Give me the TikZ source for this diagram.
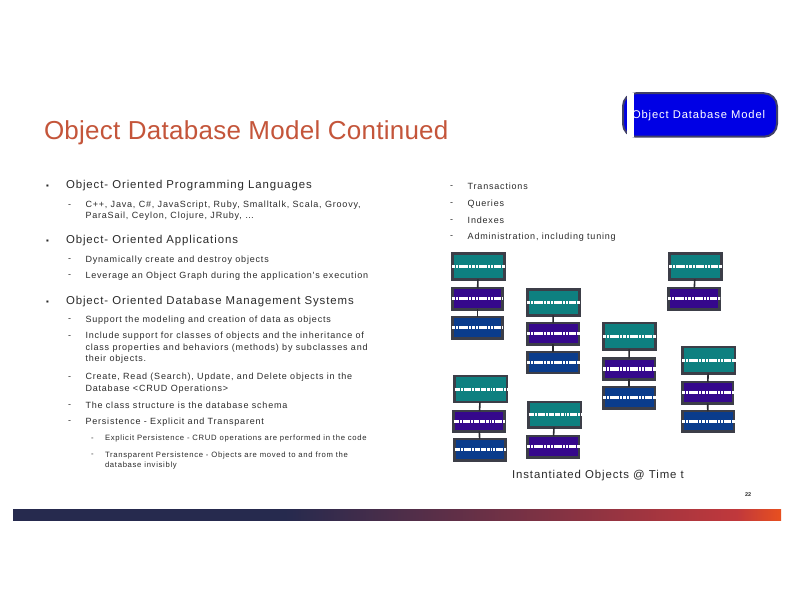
\documentclass[tikz,border=0pt]{standalone}
\usepackage{fontspec}
\setmainfont{Liberation Sans}
\newfontfamily\ftitle[LetterSpace=1]{Liberation Sans}
\newfontfamily\fone[LetterSpace=8]{Liberation Sans}
\newfontfamily\ftwo[LetterSpace=9]{Liberation Sans}
\newfontfamily\fthree[LetterSpace=9]{Liberation Sans}
\definecolor{tealfill}{HTML}{0E8080}
\definecolor{purplefill}{HTML}{35088C}
\definecolor{bluefill}{HTML}{0A3C8C}
\definecolor{boxedge}{HTML}{3C3E48}
\definecolor{badgeedge}{HTML}{3F3F68}
\definecolor{titlecol}{HTML}{C4553A}
\definecolor{bodytext}{HTML}{2A2A2A}
\definecolor{barnavy}{HTML}{262A4E}
\definecolor{barred}{HTML}{C0383C}
\definecolor{barorange}{HTML}{E8501F}
\pgfdeclarehorizontalshading{barshade}{100bp}{
  color(0bp)=(barnavy);
  color(25bp)=(barnavy);
  color(42.7bp)=(barnavy);
  color(72.1bp)=(barred);
  color(75bp)=(barorange);
  color(100bp)=(barorange)}
\tikzset{
  x=1pt,y=1pt,
  objbase/.style={rectangle,draw=boxedge,line width=2.5pt,outer sep=0pt,inner sep=0pt},
  tealbox/.style={objbase,fill=tealfill},
  purplebox/.style={objbase,fill=purplefill},
  bluebox/.style={objbase,fill=bluefill},
  barline/.style={draw=white,line width=3.2pt,dash pattern=on 3pt off .9pt on 1.5pt off .9pt on 2pt off .9pt on 7pt off .9pt on 2pt off .9pt on 3pt off .9pt on 1.5pt off .9pt on 5pt off .9pt},
  link/.style={draw=boxedge!70!black,line width=1.6pt},
  txt/.style={anchor=west,inner sep=0pt,outer sep=0pt,text=bodytext,align=left,yshift=-1pt},
  titletxt/.style={txt,text=titlecol,font=\ftitle\fontsize{26}{30}\selectfont},
  lone/.style={txt,font=\fone\fontsize{11.4}{13}\selectfont},
  ltwo/.style={txt,font=\ftwo\fontsize{9}{11.5}\selectfont},
  lthree/.style={txt,font=\fthree\fontsize{7.7}{10.5}\selectfont},
}
\newcommand{\objbox}[6]{%
  \node[#2box,minimum width={(#4-#3-2.5)*1pt},minimum height={(#6-#5-2.5)*1pt}] (#1) at ({(#3+#4)/2},{612-(#5+#6)/2}) {};
  \draw[barline] (#1.west) -- ([xshift=1pt]#1.east);
}
\newcommand{\dashmark}{\vphantom{Ag}-}
\newcommand{\squaremark}{\vphantom{Ag}{\fontsize{8}{9}\selectfont▪}}
\begin{document}
\begin{tikzpicture}
\useasboundingbox (0,0) rectangle (792,612);
\fill[white] (0,0) rectangle (792,612);

% badge
\node[rectangle,rounded corners=13pt,draw=badgeedge,line width=2pt,fill=blue!90!black,minimum width=154pt,minimum height=43.5pt,outer sep=0pt] (badge) at (700,{612-115}) {};
\fill[white] (626.7,{612-136.7}) rectangle (634.3,{612-93.3});
\node[txt,text=white,font=\fone\fontsize{11.2}{13}\selectfont] (badgetext) at (632,{612-115}) {Object Database Model};

\node[titletxt] (title) at (44,{612-132}) {Object Database Model Continued};

% left column
\node[lone] (b1) at (46,{612-184.7}) {\squaremark};
\node[lone] (t1) at (66,{612-184.7}) {Object- Oriented Programming Languages};
\node[ltwo] (d1) at (68,{612-204}) {\dashmark};
\node[ltwo] (t2) at (85.5,{612-209.5}) {C++, Java, C\#, JavaScript, Ruby, Smalltalk, Scala, Groovy,\\ParaSail, Ceylon, Clojure, JRuby, …};
\node[lone] (b2) at (46,{612-239.3}) {\squaremark};
\node[lone] (t3) at (66,{612-239.3}) {Object- Oriented Applications};
\node[ltwo] (d2) at (68,{612-258.7}) {\dashmark};
\node[ltwo] (t4) at (85.5,{612-258.7}) {Dynamically create and destroy objects};
\node[ltwo] (d3) at (68,{612-274.7}) {\dashmark};
\node[ltwo] (t5) at (85.5,{612-274.7}) {Leverage an Object Graph during the application's execution};
\node[lone] (b3) at (46,{612-300.7}) {\squaremark};
\node[lone] (t6) at (66,{612-300.7}) {Object- Oriented Database Management Systems};
\node[ltwo] (d4) at (68,{612-318.7}) {\dashmark};
\node[ltwo] (t7) at (85.5,{612-318.7}) {Support the modeling and creation of data as objects};
\node[ltwo] (d5) at (68,{612-335.7}) {\dashmark};
\node[ltwo] (t8) at (85.5,{612-347}) {Include support for classes of objects and the inheritance of\\class properties and behaviors (methods) by subclasses and\\their objects.};
\node[ltwo] (d6) at (68,{612-376}) {\dashmark};
\node[ltwo] (t9) at (85.5,{612-382}) {Create, Read (Search), Update, and Delete objects in the\\Database <CRUD Operations>};
\node[ltwo] (d7) at (68,{612-404}) {\dashmark};
\node[ltwo] (t10) at (85.5,{612-404}) {The class structure is the database schema};
\node[ltwo] (d8) at (68,{612-420.7}) {\dashmark};
\node[ltwo] (t11) at (85.5,{612-420.7}) {Persistence - Explicit and Transparent};
\node[lthree] (d9) at (91,{612-437.3}) {\dashmark};
\node[lthree] (t12) at (105,{612-437.3}) {Explicit Persistence - CRUD operations are performed in the code};
\node[lthree] (d10) at (91,{612-454}) {\dashmark};
\node[lthree] (t13) at (105,{612-459.5}) {Transparent Persistence - Objects are moved to and from the\\database invisibly};

% right list
\node[ltwo] (r1d) at (450,{612-185.7}) {\dashmark};
\node[ltwo] (r1) at (467.7,{612-185.7}) {Transactions};
\node[ltwo] (r2d) at (450,{612-202.7}) {\dashmark};
\node[ltwo] (r2) at (467.7,{612-202.7}) {Queries};
\node[ltwo] (r3d) at (450,{612-219.7}) {\dashmark};
\node[ltwo] (r3) at (467.7,{612-219.7}) {Indexes};
\node[ltwo] (r4d) at (450,{612-235.7}) {\dashmark};
\node[ltwo] (r4) at (467.7,{612-235.7}) {Administration, including tuning};

% object boxes
\objbox{at}{teal}{451}{505.7}{252.3}{280.7}
\objbox{ap}{purple}{451}{503.7}{287}{310.7}
\objbox{ab}{blue}{451}{503.7}{316}{339.7}
\objbox{bt}{teal}{526}{580.7}{288.3}{316.7}
\objbox{bp}{purple}{526}{580}{322}{345.7}
\objbox{bb}{blue}{526}{580}{351}{374.3}
\objbox{ct}{teal}{602}{656.7}{322}{350.7}
\objbox{cp}{purple}{602}{656}{357.3}{380.7}
\objbox{cb}{blue}{602}{656}{386}{409.7}
\objbox{dt}{teal}{668}{722.7}{252.3}{280.7}
\objbox{dp}{purple}{667}{720.7}{287}{310.7}
\objbox{et}{teal}{681}{736}{346}{374.7}
\objbox{ep}{purple}{681}{734}{381}{404.7}
\objbox{eb}{blue}{681}{735}{410}{432.7}
\objbox{ft}{teal}{453.3}{508}{375}{403.3}
\objbox{fp}{purple}{452.3}{505.7}{410}{432.7}
\objbox{fb}{blue}{453.3}{506.7}{438}{461.7}
\objbox{gt}{teal}{527.3}{582}{401}{428.7}
\objbox{gp}{purple}{526}{580}{435}{458.7}

\draw[link] (at) -- (ap);
\draw[link] (ap) -- (ab);
\draw[link] (bt) -- (bp);
\draw[link] (bp) -- (bb);
\draw[link] (ct) -- (cp);
\draw[link] (cp) -- (cb);
\draw[link] (dt) -- (dp);
\draw[link] (et) -- (ep);
\draw[link] (ep) -- (eb);
\draw[link] (ft) -- (fp);
\draw[link] (fp) -- (fb);
\draw[link] (gt) -- (gp);

\node[txt,font=\fone\fontsize{11.4}{13}\selectfont] (caption) at (512,{612-474.7}) {Instantiated Objects @ Time t};
\node[txt,font=\bfseries\fontsize{5.5}{6}\selectfont] (pageno) at (745,{612-494}) {22};

% gradient bar
\path[shading=barshade] (13,{612-521}) rectangle (781,{612-510});
\end{tikzpicture}
\end{document}
